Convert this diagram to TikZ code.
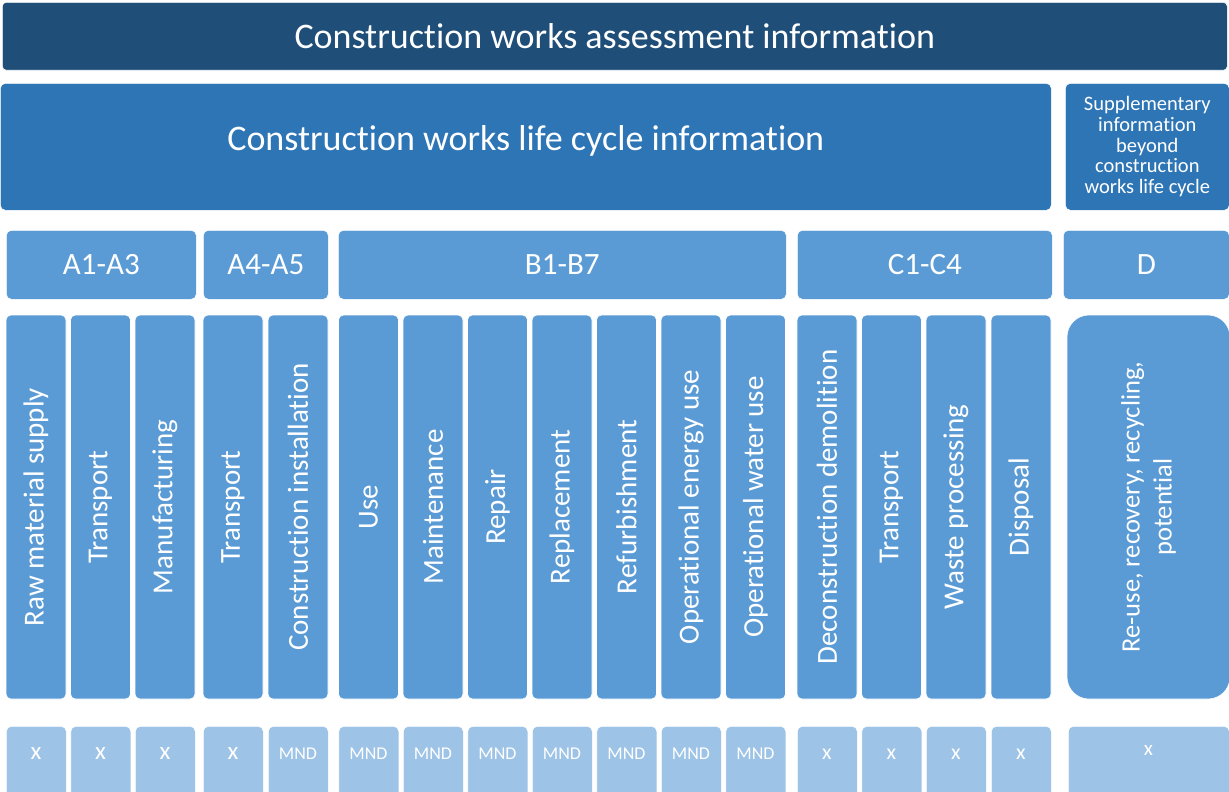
\documentclass[tikz,border=0pt]{standalone}
\usepackage{fontspec}
\setmainfont[Ligatures=NoCommon]{Carlito}
\usepackage{tikz}
\usetikzlibrary{positioning}
\definecolor{darkblue}{HTML}{1F4E79}
\definecolor{midblue}{HTML}{2E75B6}
\definecolor{stageblue}{HTML}{5B9BD5}
\definecolor{paleblue}{HTML}{9DC3E6}
\tikzset{
  box/.style={draw=white, line width=0.6pt, inner sep=0pt, text=white, rounded corners=5pt},
  stage/.style={box, fill=stageblue, rotate=90, minimum width=384pt, minimum height=60pt,
    font=\fontsize{29}{34}\selectfont},
  module/.style={box, fill=stageblue, anchor=north west, minimum height=69pt,
    font=\fontsize{31}{36}\selectfont},
  result/.style={box, fill=paleblue, anchor=north west, minimum width=60pt, minimum height=80pt}
}
\begin{document}
\begin{tikzpicture}[x=1pt,y=-1pt]
\clip (0,0) rectangle (1229,792);
% headings
\node[box, fill=darkblue, anchor=north west, minimum width=1225pt, minimum height=68pt,
  rounded corners=4pt, font=\fontsize{36}{40}\selectfont] (assess) at (2,2)
  {Construction works assessment information};
\node[box, fill=midblue, anchor=north west, minimum width=1051pt, minimum height=127pt,
  font=\fontsize{36}{40}\selectfont] (cycle) at (0,83)
  {\raisebox{6pt}[\height][\depth]{Construction works life cycle information}};
\node[box, fill=midblue, anchor=north west, minimum width=164pt, minimum height=127pt,
  align=center, font=\fontsize{20.5}{20.7}\selectfont] (supp) at (1065,83)
  {Supplementary\\information\\beyond\\construction\\works life cycle};
% modules
\node[module, minimum width=190pt] (A13) at (6,230) {A1-A3};
\node[module, minimum width=125pt] (A45) at (203,230) {A4-A5};
\node[module, minimum width=448pt] (B17) at (338,230) {B1-B7};
\node[module, minimum width=255pt] (C14) at (797,230) {C1-C4};
\node[module, minimum width=166pt] (D) at (1063,230) {D};
% stages
\foreach \x/\t [count=\i] in {6/Raw material supply, 70.5/Transport, 135/Manufacturing,
  203/Transport, 268/Construction installation,
  338.5/Use, 403/Maintenance, 467.5/Repair, 532/Replacement, 596.5/Refurbishment,
  661/Operational energy use, 725.5/Operational water use,
  797/Deconstruction demolition, 861.5/Transport, 926/Waste processing, 991/Disposal}
  \node[stage] (s\i) at (\x+30,507) {\t};
\node[stage, minimum height=163pt, rounded corners=22pt, align=center,
  font=\fontsize{26.5}{32}\selectfont] (sD) at (1148.5,507)
  {Re-use, recovery, recycling,\\potential};
% declared results
\foreach \x/\t/\f [count=\i] in {6/x/25, 70.5/x/25, 135/x/25, 203/x/25, 268/MND/18,
  338.5/MND/18, 403/MND/18, 467.5/MND/18, 532/MND/18, 596.5/MND/18, 661/MND/18, 725.5/MND/18,
  797/x/22, 861.5/x/22, 926/x/22, 991/x/22}
{
  \node[result] (r\i) at (\x,726) {};
  \node[text=white, font=\fontsize{\f}{\f}\selectfont] (t\i) at (\x+30,754) {\t};
}
\node[result, minimum width=161pt] (rD) at (1068,726) {};
\node[text=white, font=\fontsize{21}{21}\selectfont] (tD) at (1148.5,750) {x};
\end{tikzpicture}
\end{document}
